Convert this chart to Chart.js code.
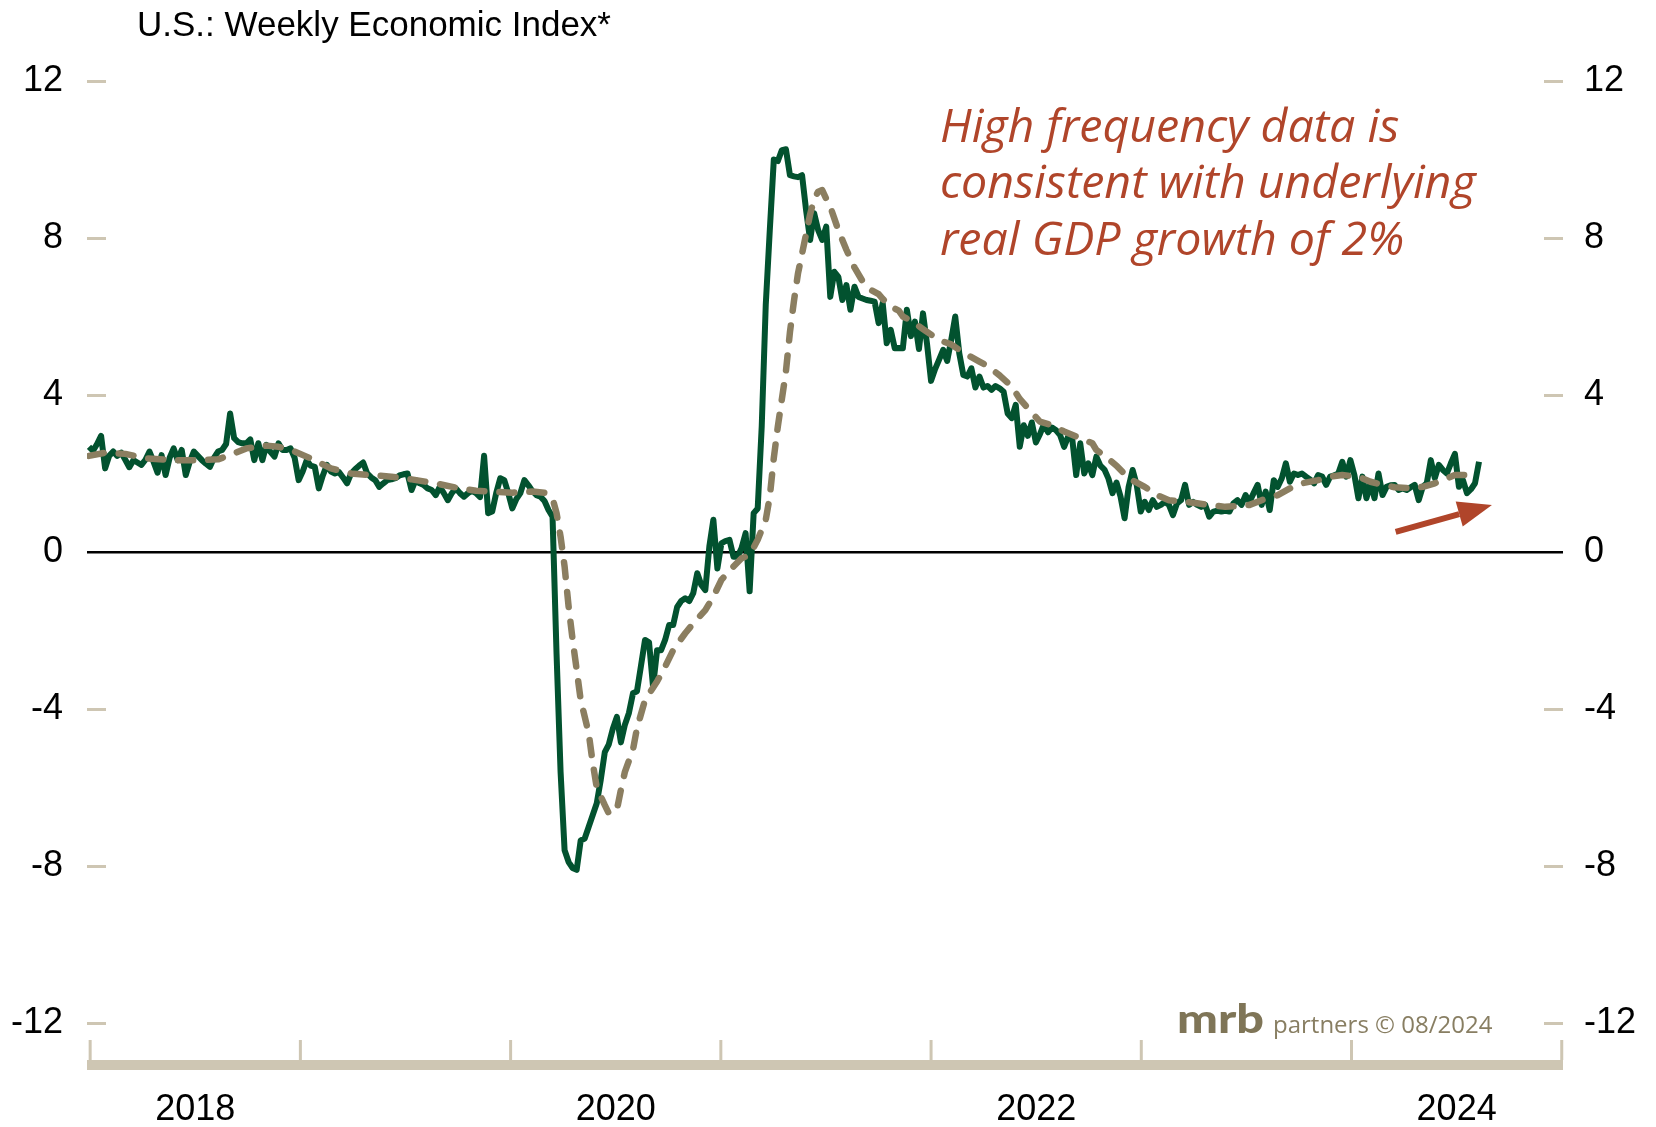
<!DOCTYPE html>
<html>
<head>
<meta charset="utf-8">
<title>U.S.: Weekly Economic Index</title>
<script src="https://cdn.jsdelivr.net/npm/chart.js@4.4.1/dist/chart.umd.min.js"></script>
<style>
  html, body { margin: 0; padding: 0; background: #ffffff; }
  canvas { display: block; }
</style>
</head>
<body>
<canvas id="chart" width="1656" height="1127"></canvas>
<script>
// Weekly Economic Index, one reading per week starting with the week ending 2017-12-30
const firstWeek = '2017-12-30';
const weiValues = [
  2.68, 2.58, 2.75, 2.96, 2.13, 2.45, 2.56, 2.45, 2.53, 2.35,
  2.16, 2.34, 2.28, 2.22, 2.35, 2.56, 2.30, 2.02, 2.47, 1.96,
  2.40, 2.64, 2.34, 2.60, 1.96, 2.30, 2.56, 2.45, 2.34, 2.25,
  2.17, 2.40, 2.56, 2.60, 2.75, 3.53, 2.90, 2.80, 2.77, 2.77,
  2.87, 2.34, 2.77, 2.34, 2.73, 2.55, 2.43, 2.77, 2.60, 2.60,
  2.64, 2.40, 1.83, 2.05, 2.34, 2.20, 2.17, 1.62, 1.95, 2.22,
  2.05, 2.00, 2.04, 1.90, 1.75, 2.00, 2.11, 2.20, 2.28, 2.00,
  1.90, 1.83, 1.66, 1.75, 1.83, 1.85, 1.88, 1.95, 1.98, 2.00,
  1.58, 1.83, 1.75, 1.71, 1.62, 1.58, 1.45, 1.66, 1.50, 1.32,
  1.50, 1.62, 1.50, 1.41, 1.50, 1.55, 1.50, 1.40, 2.45, 0.99,
  1.03, 1.50, 1.88, 1.83, 1.50, 1.11, 1.35, 1.50, 1.83, 1.70,
  1.55, 1.45, 1.41, 1.30, 1.07, 0.90, -2.60, -5.60, -7.60, -7.90,
  -8.05, -8.10, -7.35, -7.30, -7.00, -6.70, -6.40, -5.80, -5.10, -4.90,
  -4.50, -4.20, -4.85, -4.40, -4.10, -3.60, -3.55, -2.90, -2.24, -2.30,
  -3.43, -2.50, -2.50, -2.24, -1.86, -1.86, -1.40, -1.25, -1.18, -1.25,
  -1.05, -0.54, -0.84, -0.97, 0.14, 0.82, -0.42, 0.22, 0.28, 0.31,
  -0.12, -0.12, 0.10, 0.48, -1.00, 0.99, 1.11, 3.20, 6.30, 8.20,
  10.00, 9.96, 10.24, 10.26, 9.60, 9.57, 9.55, 9.60, 8.71, 7.95,
  8.63, 8.20, 7.95, 8.29, 6.50, 7.14, 7.01, 6.42, 6.80, 6.17,
  6.76, 6.50, 6.46, 6.42, 6.40, 6.38, 5.83, 6.34, 5.32, 5.66,
  5.19, 5.20, 5.19, 6.17, 5.50, 5.87, 5.17, 6.08, 5.30, 4.36,
  4.66, 4.90, 5.15, 4.87, 5.40, 6.00, 5.06, 4.51, 4.47, 4.68,
  4.19, 4.47, 4.19, 4.23, 4.13, 4.23, 4.17, 4.08, 3.53, 3.41,
  3.75, 2.68, 3.23, 2.96, 3.30, 2.79, 3.00, 3.26, 3.05, 3.17,
  3.10, 2.98, 2.68, 2.94, 2.90, 1.96, 2.77, 2.00, 2.26, 1.96,
  2.43, 2.20, 2.10, 1.87, 1.50, 1.77, 1.41, 0.86, 1.66, 2.09,
  1.71, 1.03, 1.28, 1.07, 1.32, 1.15, 1.20, 1.28, 1.20, 0.94,
  1.24, 1.32, 1.71, 1.20, 1.28, 1.20, 1.15, 1.20, 0.90, 1.03,
  1.05, 1.03, 1.05, 1.03, 1.24, 1.32, 1.20, 1.45, 1.28, 1.50,
  1.71, 1.20, 1.54, 1.07, 1.83, 1.66, 1.88, 2.26, 1.79, 2.00,
  1.96, 2.00, 1.92, 1.85, 1.75, 1.96, 1.92, 1.71, 1.92, 1.95,
  2.00, 2.30, 1.92, 2.34, 1.96, 1.37, 1.92, 1.37, 1.75, 1.37,
  2.00, 1.45, 1.66, 1.70, 1.71, 1.58, 1.62, 1.58, 1.65, 1.71,
  1.32, 1.66, 1.75, 2.34, 1.88, 2.22, 2.09, 2.00, 2.26, 2.50,
  1.66, 1.83, 1.50, 1.60, 1.75, 2.30
];

// 13-week average, read at selected weeks (week number counted from firstWeek)
const avgWeeks = [
  0, 4, 9, 14, 21, 27, 32, 35, 39, 44, 47, 51, 56, 60, 65, 70, 75, 80, 86, 92,
  96, 100, 105, 110, 113, 115, 116, 117, 118, 119, 120, 121, 122, 124, 125, 126, 128, 129, 130, 131,
  132, 133, 135, 136, 138, 141, 143, 145, 146, 148, 150, 153, 155, 157, 160, 162, 164, 166, 168, 169,
  170, 171, 172, 173, 174, 175, 176, 177, 178, 179, 180, 181, 182, 183, 184, 185, 186, 187, 188, 190,
  192, 194, 196, 197, 199, 201, 202, 204, 207, 211, 214, 217, 221, 223, 226, 229, 231, 234, 236, 239,
  242, 245, 249, 250, 252, 255, 258, 262, 265, 268, 272, 275, 278, 282, 285, 288, 291, 295, 298, 301,
  305, 308, 311, 315, 318, 321, 324, 328, 331, 334, 336, 339, 341, 344
];
const avgValues = [
  2.45, 2.53, 2.50, 2.39, 2.34, 2.34, 2.36, 2.47, 2.64, 2.71, 2.68, 2.56, 2.34, 2.13, 2.00, 1.96, 1.92, 1.85, 1.75, 1.62,
  1.56, 1.54, 1.51, 1.54, 1.51, 1.37, 0.99, 0.39, -0.37, -1.39, -2.24, -3.00, -3.77, -4.62, -5.38, -6.00, -6.45, -6.66, -6.60, -6.57,
  -6.06, -5.60, -5.04, -4.49, -3.77, -3.30, -2.92, -2.50, -2.35, -2.07, -1.82, -1.48, -1.14, -0.71, -0.37, -0.16, -0.08, 0.31, 0.82, 1.41,
  2.40, 3.20, 3.90, 4.60, 5.60, 6.40, 7.10, 7.60, 8.10, 8.60, 9.00, 9.18, 9.22, 9.00, 8.80, 8.50, 8.20, 7.95, 7.70, 7.25,
  6.90, 6.68, 6.57, 6.45, 6.25, 6.15, 6.00, 5.90, 5.68, 5.40, 5.29, 5.08, 4.85, 4.74, 4.50, 4.22, 3.90, 3.55, 3.32, 3.23,
  3.07, 2.94, 2.77, 2.60, 2.45, 2.20, 1.88, 1.66, 1.45, 1.32, 1.28, 1.24, 1.20, 1.15, 1.17, 1.20, 1.32, 1.45, 1.62, 1.75,
  1.83, 1.92, 1.96, 1.92, 1.79, 1.71, 1.65, 1.62, 1.66, 1.75, 1.83, 1.96, 1.96, 1.96
];

const yTicks = [-12, -8, -4, 0, 4, 8, 12];
const yearTicks = [2018, 2019, 2020, 2021, 2022, 2023, 2024, 2025];
const yearLabels = ['2018', '2020', '2022', '2024'];
const titleText = 'U.S.: Weekly Economic Index*';
const noteLines = ['High frequency data is', 'consistent with underlying', 'real GDP growth of 2%'];
const arrowTail = { x: 2024.21, y: 0.51 };
const arrowHead = { x: 2024.668, y: 1.20 };
const brandMark = 'mrb';
const brandText = 'partners \u00A9 08/2024';

const GREEN = '#02522F';
const KHAKI = '#8B7E60';
const BEIGE = '#CEC6B3';
const RUST = '#B0452A';
const BRAND = '#7F7557';
const SANS = "'Liberation Sans', Arial, sans-serif";

const DAY = 86400000;
function decimalYear(ms) {
  const d = new Date(ms);
  const y = d.getUTCFullYear();
  const s = Date.UTC(y, 0, 1), e = Date.UTC(y + 1, 0, 1);
  return y + (ms - s) / (e - s);
}
const t0 = Date.parse(firstWeek + 'T00:00:00Z');
const weekX = w => decimalYear(t0 + w * 7 * DAY);

const weiData = weiValues.map((v, i) => ({ x: weekX(i), y: v }));
const avgData = avgValues.map((v, i) => ({ x: weekX(avgWeeks[i]), y: v }));

// short tick dashes inside both edges of the plot
const edgeTicks = {
  id: 'edgeTicks',
  beforeDatasetsDraw(chart) {
    const { ctx, chartArea: a, scales: { y } } = chart;
    ctx.save();
    ctx.strokeStyle = BEIGE;
    ctx.lineWidth = 3;
    yTicks.forEach(v => {
      if (v === 0) return;
      const py = Math.round(y.getPixelForValue(v)) + 0.5;
      ctx.beginPath();
      ctx.moveTo(a.left, py); ctx.lineTo(a.left + 19, py);
      ctx.moveTo(a.right - 19, py); ctx.lineTo(a.right, py);
      ctx.stroke();
    });
    ctx.restore();
  }
};

// year band under the plot, title, note, arrow and brand line
const decorations = {
  id: 'decorations',
  afterDraw(chart) {
    const { ctx, chartArea: a, scales: { x, y } } = chart;
    ctx.save();

    // time band with year boundary marks
    const bandTop = a.bottom + 37;
    ctx.fillStyle = BEIGE;
    ctx.fillRect(a.left, bandTop, a.right - a.left, 10);
    yearTicks.forEach(yr => {
      const px = x.getPixelForValue(yr);
      ctx.fillRect(px - 1.5, bandTop - 20, 3, 20);
    });
    ctx.fillStyle = '#000';
    ctx.font = '36px ' + SANS;
    ctx.textAlign = 'center';
    ctx.textBaseline = 'middle';
    yearLabels.forEach(lbl => {
      ctx.fillText(lbl, x.getPixelForValue(Number(lbl) + 0.5), bandTop + 50);
    });

    // title
    ctx.textAlign = 'left';
    ctx.textBaseline = 'alphabetic';
    ctx.font = '35px ' + SANS;
    ctx.fillText(titleText, 137, 36);

    // note
    ctx.fillStyle = RUST;
    ctx.font = "italic 46.5px 'Open Sans', 'Noto Sans', sans-serif";
    noteLines.forEach((line, i) => ctx.fillText(line, 940, 141.6 + i * 56.7));

    // arrow
    const x0 = x.getPixelForValue(arrowTail.x), y0 = y.getPixelForValue(arrowTail.y);
    const x1 = x.getPixelForValue(arrowHead.x), y1 = y.getPixelForValue(arrowHead.y);
    const ang = Math.atan2(y1 - y0, x1 - x0);
    const headLen = 34, headHalf = 13;
    const bx = x1 - headLen * Math.cos(ang), by = y1 - headLen * Math.sin(ang);
    ctx.strokeStyle = RUST;
    ctx.lineWidth = 6;
    ctx.beginPath();
    ctx.moveTo(x0, y0); ctx.lineTo(bx, by);
    ctx.stroke();
    ctx.beginPath();
    ctx.moveTo(x1, y1);
    ctx.lineTo(bx + headHalf * Math.sin(ang), by - headHalf * Math.cos(ang));
    ctx.lineTo(bx - headHalf * Math.sin(ang), by + headHalf * Math.cos(ang));
    ctx.closePath();
    ctx.fill();

    // brand line: heavy wordmark stretched to its set width, then the plain text
    ctx.fillStyle = BRAND;
    ctx.font = "900 40px Lato, 'Open Sans', sans-serif";
    const markW = ctx.measureText(brandMark).width;
    ctx.save();
    ctx.translate(1177, 1033);
    ctx.scale(87 / markW, 1);
    ctx.fillText(brandMark, 0, 0);
    ctx.restore();
    ctx.fillStyle = '#887E62';
    ctx.font = "24px 'Open Sans', sans-serif";
    ctx.fillText(brandText, 1273, 1033);

    ctx.restore();
  }
};

const tickFont = { family: SANS, size: 36 };

new Chart(document.getElementById('chart'), {
  type: 'line',
  data: {
    datasets: [
      {
        label: 'Weekly Economic Index',
        data: weiData,
        borderColor: GREEN,
        borderWidth: 6,
        borderJoinStyle: 'round',
        pointRadius: 0,
        tension: 0,
        order: 2
      },
      {
        label: '13-week average',
        data: avgData,
        borderColor: KHAKI,
        borderWidth: 6.5,
        borderDash: [15, 15],
        borderCapStyle: 'round',
        borderJoinStyle: 'round',
        pointRadius: 0,
        tension: 0,
        order: 1
      }
    ]
  },
  options: {
    responsive: false,
    animation: false,
    devicePixelRatio: 1,
    layout: { padding: { top: 81, bottom: 104, left: 0, right: 0 } },
    plugins: { legend: { display: false }, tooltip: { enabled: false } },
    scales: {
      x: { type: 'linear', min: 2017.985, max: 2025.006, display: false },
      y: {
        position: 'left',
        min: -12, max: 12,
        afterBuildTicks: s => { s.ticks = yTicks.map(v => ({ value: v })); },
        afterFit: s => { s.width = 87; },
        ticks: { font: tickFont, color: '#000', padding: 24 },
        border: { display: false },
        grid: {
          drawTicks: false,
          lineWidth: 2.5,
          color: c => (c.tick && c.tick.value === 0 ? '#000000' : 'rgba(0,0,0,0)')
        }
      },
      y2: {
        position: 'right',
        min: -12, max: 12,
        afterBuildTicks: s => { s.ticks = yTicks.map(v => ({ value: v })); },
        afterFit: s => { s.width = 93; },
        ticks: { font: tickFont, color: '#000', padding: 21 },
        border: { display: false },
        grid: { display: false, drawTicks: false }
      }
    }
  },
  plugins: [edgeTicks, decorations]
});
</script>
</body>
</html>
